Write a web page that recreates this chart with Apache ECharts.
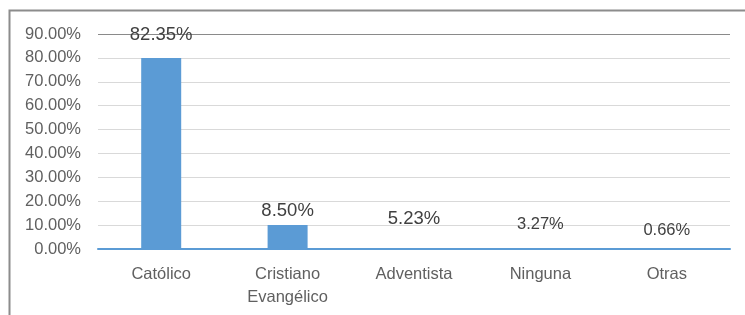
<!DOCTYPE html>
<html>
<head>
<meta charset="utf-8">
<script src="https://cdn.jsdelivr.net/npm/echarts@6/dist/echarts.min.js"></script>
<style>
  html, body { margin: 0; padding: 0; background: #fff; }
  #chart { width: 745px; height: 315px; }
</style>
</head>
<body>
<div id="chart"></div>
<script>
var categories = ['Católico', 'Cristiano\nEvangélico', 'Adventista', 'Ninguna', 'Otras'];
// bar heights as they are drawn in the picture
var drawnValues = [80, 10, 0, 0, 0];
// percentages written above each bar
var labelValues = [82.35, 8.50, 5.23, 3.27, 0.66];
var labelSizes = [18.5, 18.5, 18.5, 16.5, 16.5];
var yTicks = [0, 10, 20, 30, 40, 50, 60, 70, 80, 90];

var chartDom = document.getElementById('chart');
var chart = echarts.init(chartDom);
var font = '"Liberation Sans", Arial, sans-serif';

var gridColors = yTicks.map(function (t, i) {
  return i === yTicks.length - 1 ? '#8a8a8a' : '#d9d9d9';
});

var option = {
  animation: false,
  textStyle: { fontFamily: font },
  graphic: [{
    type: 'rect',
    shape: { x: 9.5, y: 10.5, width: 800, height: 400 },
    style: { fill: 'none', stroke: '#8c8c8c', lineWidth: 2 },
    silent: true
  }],
  grid: {
    left: 98,
    right: 15,
    top: 34,
    bottom: 66
  },
  xAxis: {
    type: 'category',
    data: categories,
    axisTick: { show: false },
    axisLine: { show: true, lineStyle: { color: '#5b9bd5', width: 2 } },
    axisLabel: {
      color: '#606060',
      fontSize: 16.5,
      fontFamily: font,
      lineHeight: 23,
      margin: 14,
      interval: 0
    }
  },
  yAxis: {
    type: 'value',
    min: 0,
    max: 90,
    interval: 10,
    axisLine: { show: false },
    axisTick: { show: false },
    splitLine: { lineStyle: { color: gridColors, width: 1 } },
    axisLabel: {
      color: '#606060',
      fontSize: 16.5,
      fontFamily: font,
      margin: 17,
      formatter: function (v) { return v.toFixed(2) + '%'; }
    }
  },
  series: [{
    type: 'bar',
    data: drawnValues,
    barWidth: 40,
    itemStyle: { color: '#5b9bd5' },
    z: 2
  }, {
    type: 'bar',
    data: labelValues.map(function (v, i) {
      return {
        value: v,
        label: { fontSize: labelSizes[i] }
      };
    }),
    barWidth: 40,
    barGap: '-100%',
    itemStyle: { color: 'rgba(0,0,0,0)' },
    label: {
      show: true,
      position: 'top',
      distance: 8,
      color: '#404040',
      fontFamily: font,
      formatter: function (p) { return p.value.toFixed(2) + '%'; }
    },
    z: 3
  }]
};

chart.setOption(option);
</script>
</body>
</html>
